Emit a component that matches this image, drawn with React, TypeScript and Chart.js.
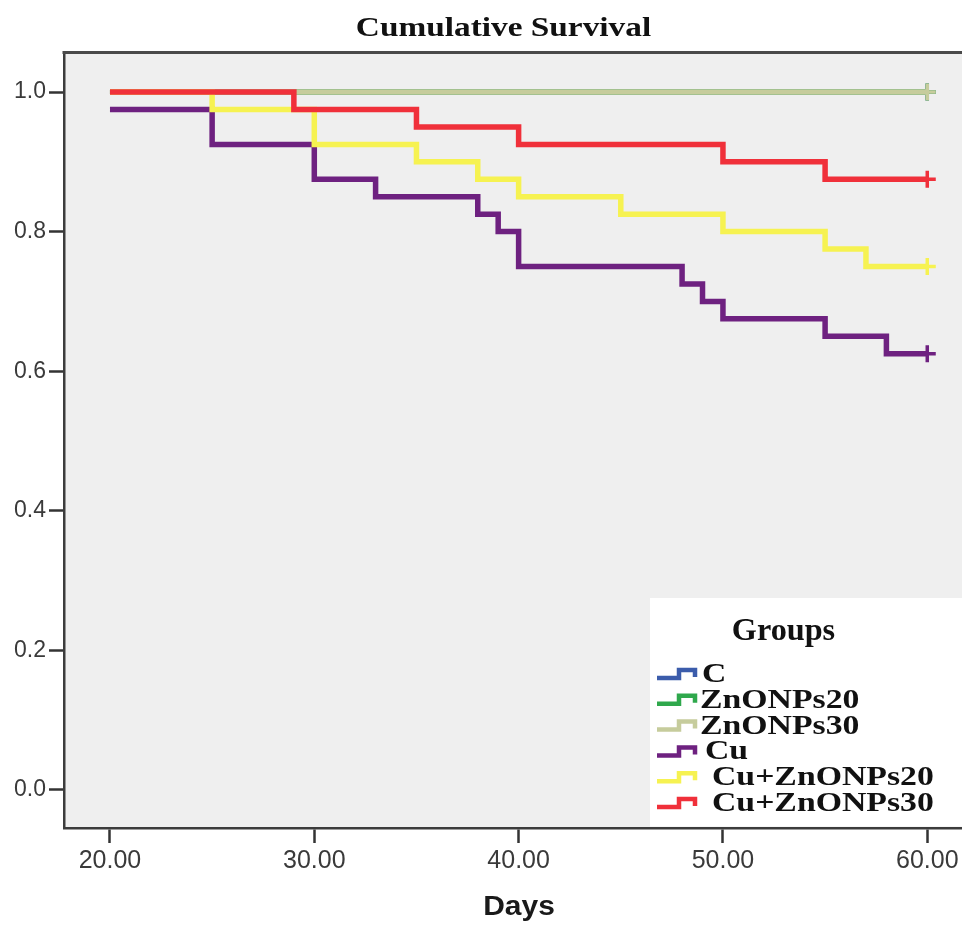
import React, { useEffect, useRef } from "react";
import { Chart, registerables } from "chart.js";

Chart.register(...registerables);

// ---- Data ----
const groupNames = ["C", "ZnONPs20", "ZnONPs30", "Cu", "Cu+ZnONPs20", "Cu+ZnONPs30"];
const groupColors = ["#3b5cab", "#2fa84c", "#c6cc9c", "#6e2180", "#f6f251", "#f0303a"];

const cDays = [20, 60];
const cSurv = [1.0, 1.0];
const zn20Days = [20, 60];
const zn20Surv = [1.0, 1.0];
const zn30Days = [20, 60];
const zn30Surv = [1.0, 1.0];
const cuDays = [20, 25, 30, 33, 38, 39, 40, 48, 49, 50, 55, 58, 60];
const cuSurv = [0.975, 0.925, 0.875, 0.85, 0.825, 0.8, 0.75, 0.725, 0.7, 0.675, 0.65, 0.625, 0.625];
const cuZn20Days = [20, 25, 30, 35, 38, 40, 45, 50, 55, 57, 60];
const cuZn20Surv = [1.0, 0.975, 0.925, 0.9, 0.875, 0.85, 0.825, 0.8, 0.775, 0.75, 0.75];
const cuZn30Days = [20, 29, 35, 40, 50, 55, 60];
const cuZn30Surv = [1.0, 0.975, 0.95, 0.925, 0.9, 0.875, 0.875];

const allDays = [cDays, zn20Days, zn30Days, cuDays, cuZn20Days, cuZn30Days];
const allSurv = [cSurv, zn20Surv, zn30Surv, cuSurv, cuZn20Surv, cuZn30Surv];

const xTicks = [20, 30, 40, 50, 60];
const yTicks = [0, 0.2, 0.4, 0.6, 0.8, 1.0];

const chartTitle = "Cumulative Survival";
const xTitle = "Days";
const legendTitle = "Groups";

function drawScaledText(
  ctx: CanvasRenderingContext2D,
  text: string,
  x: number,
  y: number,
  font: string,
  sx: number,
  align: "left" | "center"
) {
  ctx.save();
  ctx.font = font;
  ctx.textBaseline = "alphabetic";
  ctx.textAlign = "left";
  const w = ctx.measureText(text).width * sx;
  const startX = align === "center" ? x - w / 2 : x;
  ctx.translate(startX, y);
  ctx.scale(sx, 1);
  ctx.fillText(text, 0, 0);
  ctx.restore();
}

const decorPlugin = {
  id: "decor",
  beforeDraw(chart: any) {
    const { ctx, chartArea: a, width, height } = chart;
    ctx.save();
    ctx.fillStyle = "#ffffff";
    ctx.fillRect(0, 0, width, height);
    ctx.fillStyle = "#efefef";
    ctx.fillRect(a.left, a.top, a.right - a.left, a.bottom - a.top);
    ctx.restore();
  },
  beforeDatasetsDraw(chart: any) {
    const { ctx, chartArea: a } = chart;
    ctx.save();
    ctx.fillStyle = "#ffffff";
    ctx.fillRect(650, 598, a.right - 650, a.bottom - 1.5 - 598);
    ctx.restore();
  },
  afterDraw(chart: any) {
    const { ctx, chartArea: a } = chart;
    ctx.save();
    ctx.strokeStyle = "#4a4a4a";
    ctx.lineWidth = 3;
    ctx.beginPath();
    ctx.moveTo(a.left - 1.5, a.top - 1.5);
    ctx.lineTo(a.right, a.top - 1.5);
    ctx.stroke();

    ctx.fillStyle = "#111111";
    drawScaledText(ctx, chartTitle, 503.5, 36, "bold 28px 'Liberation Serif'", 1.19, "center");
    ctx.fillStyle = "#1a1a1a";
    drawScaledText(ctx, xTitle, 519, 915, "bold 28px 'Liberation Sans'", 1.07, "center");

    ctx.fillStyle = "#111111";
    drawScaledText(ctx, legendTitle, 783.5, 640, "bold 31px 'Liberation Serif'", 1.04, "center");
    const textX = [702, 700, 700, 705, 712, 712];
    for (let i = 0; i < groupNames.length; i++) {
      const base = 682 + i * 25.8;
      ctx.strokeStyle = groupColors[i];
      ctx.lineWidth = 4.5;
      ctx.lineJoin = "miter";
      ctx.lineCap = "butt";
      ctx.beginPath();
      ctx.moveTo(657, base - 4);
      ctx.lineTo(679, base - 4);
      ctx.lineTo(679, base - 12);
      ctx.lineTo(695, base - 12);
      ctx.lineTo(695, base - 5);
      ctx.stroke();
      ctx.fillStyle = "#111111";
      drawScaledText(ctx, groupNames[i], textX[i], base, "bold 27px 'Liberation Serif'", 1.25, "left");
    }
    ctx.restore();
  },
};

export default function App() {
  const canvasRef = useRef<HTMLCanvasElement | null>(null);

  useEffect(() => {
    const canvas = canvasRef.current;
    if (!canvas) return;
    const drawOrder = [5, 4, 3, 2, 1, 0];
    const datasets = groupNames.map((name, i) => {
      const days = allDays[i];
      const surv = allSurv[i];
      return {
        label: name,
        data: days.map((d, j) => ({ x: d, y: surv[j] })),
        borderColor: groupColors[i],
        backgroundColor: groupColors[i],
        borderWidth: 5.5,
        stepped: "before" as const,
        fill: false,
        tension: 0,
        borderJoinStyle: "miter" as const,
        borderCapStyle: "butt" as const,
        pointStyle: "cross" as const,
        pointRadius: days.map((_, j) => (j === days.length - 1 ? 8.5 : 0)),
        pointBorderWidth: 3.5,
        pointBorderColor: groupColors[i],
        pointHoverRadius: 0,
        order: drawOrder[i],
        clip: false as any,
      };
    });

    const chart = new Chart(canvas, {
      type: "line",
      data: { datasets },
      options: {
        responsive: false,
        animation: false,
        devicePixelRatio: 1,
        layout: { autoPadding: false, padding: { top: 54, right: 0, bottom: 0, left: 0 } },
        plugins: {
          legend: { display: false },
          title: { display: false },
          tooltip: { enabled: false },
        },
        scales: {
          x: {
            type: "linear",
            min: 17.75,
            max: 61.7,
            afterBuildTicks: (s: any) => {
              s.ticks = xTicks.map((v) => ({ value: v }));
            },
            afterFit: (s: any) => {
              s.height = 101;
              s.paddingLeft = 0;
              s.paddingRight = 0;
            },
            grid: {
              display: true,
              drawOnChartArea: false,
              drawTicks: true,
              tickLength: 15,
              tickColor: "#333333",
              tickWidth: 2.5,
            },
            border: { display: true, color: "#3c3c3c", width: 2.5 },
            ticks: {
              padding: 3,
              color: "#3a3a3a",
              font: { family: "'Liberation Sans'", size: 25 },
              maxRotation: 0,
              autoSkip: false,
              callback: (v: any) => Number(v).toFixed(2),
            },
          },
          y: {
            type: "linear",
            min: -0.0545,
            max: 1.0545,
            afterBuildTicks: (s: any) => {
              s.ticks = yTicks.map((v) => ({ value: v }));
            },
            afterFit: (s: any) => {
              s.width = 64;
              s.paddingTop = 0;
              s.paddingBottom = 0;
            },
            grid: {
              display: true,
              drawOnChartArea: false,
              drawTicks: true,
              tickLength: 15,
              tickColor: "#333333",
              tickWidth: 2.5,
            },
            border: { display: true, color: "#3c3c3c", width: 2.5 },
            ticks: {
              padding: 3,
              color: "#3a3a3a",
              font: { family: "'Liberation Sans'", size: 23 },
              autoSkip: false,
              callback: (v: any) => Number(v).toFixed(1),
            },
          },
        },
      },
      plugins: [decorPlugin],
    } as any);

    return () => chart.destroy();
  }, []);

  return (
    <div style={{ position: "fixed", left: 0, top: 0, width: 962, height: 929, background: "#fff" }}>
      <canvas ref={canvasRef} width={962} height={929} style={{ display: "block", width: 962, height: 929 }} />
    </div>
  );
}
